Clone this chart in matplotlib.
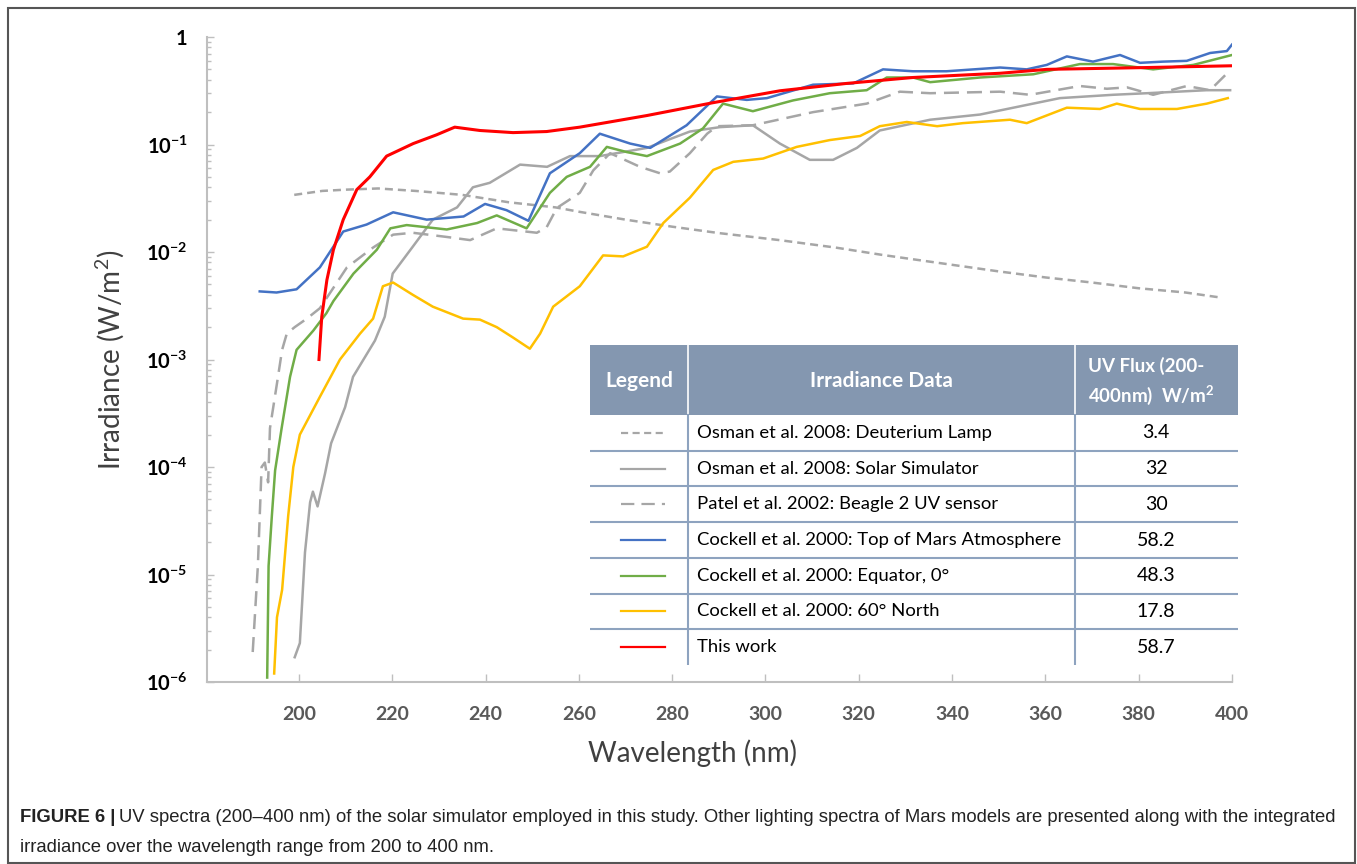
import matplotlib
matplotlib.use('Agg')
import matplotlib.pyplot as plt
from matplotlib.patches import Rectangle

plt.rcParams['font.family'] = ['Lato', 'DejaVu Sans']
plt.rcParams['mathtext.fontset'] = 'custom'
plt.rcParams['mathtext.rm'] = 'Lato'
plt.rcParams['mathtext.bf'] = 'Lato:bold'

# ---- data (wavelength nm, irradiance W/m2) ----
deut_wl = [199, 205, 210, 217, 225, 235, 245, 255, 260, 270, 280, 290, 303, 315, 325,
           340, 350, 360, 370, 380, 390, 397]
deut_irr = [0.034, 0.037, 0.038, 0.039, 0.037, 0.034, 0.029, 0.026, 0.0237, 0.020, 0.0172,
            0.0150, 0.0129, 0.0110, 0.0094, 0.0076, 0.0066, 0.0058, 0.0052, 0.0046, 0.0042, 0.0038]

sim_wl = [199.1, 200.2, 201.3, 202.4, 203.0, 204.0, 205.6, 206.9, 209.9, 211.6, 216.3, 218.4,
          220.1, 224.4, 228.7, 233.9, 237.3, 240.9, 247.4, 253.2, 258.1, 264.5, 274.6, 283.8,
          290.2, 297.3, 303.1, 309.5, 314.5, 319.6, 324.5, 335.3, 346.0, 363.1, 374.5, 381.8,
          394.6, 399.6]
sim_irr = [1.7e-6, 2.3e-6, 1.6e-5, 4.7e-5, 5.9e-5, 4.3e-5, 8.7e-5, 1.66e-4, 3.6e-4, 6.9e-4,
           1.5e-3, 2.5e-3, 6.3e-3, 0.0112, 0.020, 0.026, 0.040, 0.044, 0.065, 0.062, 0.078,
           0.078, 0.093, 0.132, 0.145, 0.151, 0.102, 0.072, 0.072, 0.093, 0.135, 0.170, 0.19,
           0.27, 0.29, 0.30, 0.32, 0.32]

patel_wl = [190.1, 191.2, 192.0, 192.7, 193.4, 193.8, 195.3, 196.4, 197.4, 199.1, 201.7, 204.5,
            210.3, 215.9, 220.2, 224.4, 231.7, 236.7, 242.4, 251.0, 253.1, 255.3, 260.2, 263.1,
            266.7, 273.1, 277.4, 279.5, 283.8, 287.5, 289.6, 297.3, 310.2, 321.7, 328.8, 335.3,
            350.3, 356.7, 367.4, 373.2, 377.5, 383.1, 390.3, 395.3, 399.6]
patel_irr = [1.9e-6, 1.2e-5, 1.0e-4, 1.1e-4, 7.2e-5, 2.3e-4, 6.0e-4, 1.23e-3, 1.74e-3, 2.0e-3,
             2.4e-3, 3.0e-3, 7.2e-3, 0.011, 0.0145, 0.0151, 0.0138, 0.0129, 0.0166, 0.0151,
             0.017, 0.0257, 0.0355, 0.0575, 0.083, 0.062, 0.054, 0.056, 0.083, 0.126, 0.148,
             0.151, 0.20, 0.24, 0.31, 0.30, 0.31, 0.29, 0.35, 0.33, 0.34, 0.29, 0.35, 0.32, 0.49]

top_wl = [191.6, 195.2, 199.5, 204.5, 209.5, 214.5, 220.2, 227.4, 235.3, 239.9, 244.5, 249.2,
          253.8, 260.2, 264.5, 271.0, 275.3, 283.1, 289.6, 296.0, 300.3, 310.2, 318.8, 325.2,
          331.6, 338.8, 350.3, 356.0, 360.3, 364.6, 370.2, 376.0, 380.3, 385.2, 390.3, 395.3,
          398.9, 400.0]
top_irr = [4.3e-3, 4.2e-3, 4.5e-3, 7.2e-3, 0.0155, 0.018, 0.0234, 0.020, 0.0214, 0.028, 0.0245,
           0.0195, 0.054, 0.083, 0.126, 0.102, 0.093, 0.151, 0.28, 0.26, 0.27, 0.36, 0.37, 0.50,
           0.48, 0.48, 0.52, 0.50, 0.55, 0.66, 0.59, 0.68, 0.575, 0.59, 0.60, 0.71, 0.74, 0.85]

eq_wl = [193.2, 193.5, 194.2, 194.9, 196.3, 198.1, 199.5, 203.1, 205.9, 207.4, 211.7, 216.7,
         219.6, 223.1, 231.7, 238.2, 242.4, 248.8, 253.8, 257.4, 262.4, 266.0, 270.3, 274.6,
         281.7, 286.6, 290.9, 297.3, 305.9, 313.8, 321.7, 326.0, 331.6, 335.3, 346.0, 357.4,
         367.4, 374.5, 383.1, 391.7, 400.0]
eq_irr = [1.1e-6, 1.2e-5, 3.5e-5, 9.3e-5, 2.3e-4, 6.9e-4, 1.23e-3, 1.86e-3, 2.7e-3, 3.5e-3,
          6.3e-3, 0.0105, 0.0166, 0.0178, 0.0162, 0.0186, 0.0219, 0.0166, 0.0355, 0.050, 0.062,
          0.095, 0.085, 0.078, 0.102, 0.141, 0.24, 0.204, 0.257, 0.30, 0.32, 0.42, 0.42, 0.38,
          0.42, 0.45, 0.56, 0.56, 0.50, 0.55, 0.68]

north_wl = [194.7, 195.3, 196.4, 197.7, 198.8, 200.2, 204.5, 208.8, 213.1, 215.9, 218.0, 220.2,
            224.4, 228.7, 235.2, 238.8, 242.4, 245.9, 249.5, 251.7, 254.5, 260.2, 265.2, 269.5,
            274.6, 278.1, 283.8, 288.8, 293.1, 299.5, 306.7, 313.8, 320.3, 324.5, 330.3, 336.8,
            342.3, 352.4, 356.0, 364.6, 371.7, 375.3, 380.3, 388.2, 394.6, 399.1]
north_irr = [1.2e-6, 4.0e-6, 7.2e-6, 3.5e-5, 1.0e-4, 2.0e-4, 4.5e-4, 1.0e-3, 1.74e-3, 2.4e-3,
             4.8e-3, 5.2e-3, 4.0e-3, 3.1e-3, 2.4e-3, 2.35e-3, 2.0e-3, 1.6e-3, 1.26e-3, 1.74e-3,
             3.1e-3, 4.8e-3, 9.3e-3, 9.1e-3, 0.0112, 0.0186, 0.032, 0.058, 0.069, 0.074, 0.095,
             0.110, 0.120, 0.148, 0.162, 0.148, 0.158, 0.17, 0.158, 0.22, 0.214, 0.24, 0.214,
             0.214, 0.24, 0.27]

work_wl = [204.3, 204.9, 206.0, 207.4, 209.5, 212.4, 215.2, 218.8, 224.5, 229.5, 233.4, 238.8,
           245.9, 253.1, 260.2, 274.6, 288.8, 303.1, 317.4, 331.6, 350.3, 360.3, 381.8, 400.0]
work_irr = [1.0e-3, 2.5e-3, 5.5e-3, 0.0105, 0.020, 0.038, 0.050, 0.078, 0.102, 0.123, 0.145,
            0.135, 0.129, 0.132, 0.145, 0.186, 0.245, 0.316, 0.37, 0.42, 0.46, 0.50, 0.52, 0.54]

names = ['Osman et al. 2008: Deuterium Lamp', 'Osman et al. 2008: Solar Simulator',
         'Patel et al. 2002: Beagle 2 UV sensor', 'Cockell et al. 2000: Top of Mars Atmosphere',
         'Cockell et al. 2000: Equator, 0°', 'Cockell et al. 2000: 60° North', 'This work']
flux = ['3.4', '32', '30', '58.2', '48.3', '17.8', '58.7']

colors = ['#A6A6A6', '#A6A6A6', '#A6A6A6', '#4472C4', '#70AD47', '#FFC000', '#FF0000']
styles = [(0, (3.2, 2.0)), '-', (0, (6, 3.2)), '-', '-', '-', '-']
widths = [1.8, 1.8, 1.8, 1.8, 1.8, 1.8, 2.2]

series = [(deut_wl, deut_irr), (sim_wl, sim_irr), (patel_wl, patel_irr), (top_wl, top_irr),
          (eq_wl, eq_irr), (north_wl, north_irr), (work_wl, work_irr)]

W, H = 1357, 864
fig = plt.figure(figsize=(W / 100, H / 100), dpi=100)
fig.add_artist(Rectangle((8 / W, 1 / H), (1355 - 8) / W, (863 - 8) / H, transform=fig.transFigure,
                         fill=False, ec='#555555', lw=1.5))

ax = fig.add_axes([207 / W, 1 - 682 / H, (1232 - 207) / W, (682 - 37) / H])
z_order = [0, 1, 2, 5, 4, 3, 6]
for i in z_order:
    wl, irr = series[i]
    ax.plot(wl, irr, color=colors[i], ls=styles[i], lw=widths[i], zorder=2 + z_order.index(i))

ax.set_yscale('log')
ax.set_xlim(180.3, 400)
ax.set_ylim(1e-6, 1)
ax.set_xticks(range(200, 401, 20))
ax.set_xticklabels([str(v) for v in range(200, 401, 20)], fontsize=14, fontweight='bold',
                   color='#595959')
yt = [1e-6, 1e-5, 1e-4, 1e-3, 1e-2, 1e-1, 1]
ax.set_yticks(yt)
ax.set_yticklabels([r'$\mathbf{10^{-%d}}$' % k for k in range(6, 0, -1)] + ['1'],
                   fontsize=14.5, fontweight='bold')
for s in ['top', 'right']:
    ax.spines[s].set_visible(False)
for s in ['left', 'bottom']:
    ax.spines[s].set_color('#BFBFBF')
    ax.spines[s].set_linewidth(1.5)
ax.tick_params(axis='x', direction='in', length=6, width=1, color='#BFBFBF', pad=17)
ax.tick_params(axis='y', which='major', direction='in', length=5, width=1, color='#BFBFBF', pad=14)
ax.tick_params(axis='y', which='minor', direction='in', length=3, width=1, color='#BFBFBF')
fig.text(692 / W, 1 - 753 / H, 'Wavelength (nm)', fontsize=20, color='#404040',
         ha='center', va='center')
ax.set_ylabel('Irradiance (W/m$^2$)', fontsize=20, color='#404040', labelpad=14)

# ---- legend table ----
tab = fig.add_axes([590 / W, 1 - 665 / H, 648 / W, 320 / H])
tab.set_xlim(0, 648)
tab.set_ylim(320, 0)
tab.axis('off')
tab.add_patch(Rectangle((0, 0), 648, 320, fc='white', ec='none', zorder=0))
tab.add_patch(Rectangle((0, 0), 648, 70, fc='#8497B0', ec='none', zorder=1))
line_c = '#8EA3BF'
c1, c2 = 98, 485
tab.plot([c1, c1], [0, 70], color='white', lw=1.2, zorder=2)
tab.plot([c2, c2], [0, 70], color='white', lw=1.2, zorder=2)
tab.plot([c1, c1], [70, 320], color=line_c, lw=1.5, zorder=2)
tab.plot([c2, c2], [70, 320], color=line_c, lw=1.5, zorder=2)
rh = (320 - 70) / 7
for k in range(1, 7):
    tab.plot([0, 648], [70 + k * rh] * 2, color=line_c, lw=1.5, zorder=2)
tab.text(c1 / 2, 36, 'Legend', ha='center', va='center', color='white', fontsize=15,
         fontweight='bold')
tab.text((c1 + c2) / 2, 36, 'Irradiance Data', ha='center', va='center', color='white',
         fontsize=15, fontweight='bold')
tab.text(498, 21, 'UV Flux (200-', ha='left', va='center', color='white', fontsize=13.5,
         fontweight='bold')
tab.text(498, 50, '400nm)  W/m$^\\mathbf{2}$', ha='left', va='center', color='white',
         fontsize=13.5, fontweight='bold')
for k in range(7):
    yc = 70 + (k + 0.5) * rh
    tab.plot([31, 75], [yc, yc], color=colors[k], ls=styles[k], lw=1.6, zorder=3)
    tab.text(107, yc, names[k], ha='left', va='center', fontsize=13.3, color='black')
    tab.text(566, yc, flux[k], ha='center', va='center', fontsize=14, color='black')

# ---- caption ----
cap_y = 1 - 818 / H
t1 = fig.text(20 / W, cap_y, 'FIGURE 6 |', fontsize=13.3, fontweight='bold',
              family=['Liberation Sans'], va='center', color='#222222')
fig.canvas.draw()
bb = t1.get_window_extent(fig.canvas.get_renderer())
fig.text(bb.x1 / W + 4 / W, cap_y,
         'UV spectra (200–400 nm) of the solar simulator employed in this study. Other lighting '
         'spectra of Mars models are presented along with the integrated',
         fontsize=13.3, family=['Liberation Sans'], va='center', color='#222222')
fig.text(20 / W, 1 - 848 / H, 'irradiance over the wavelength range from 200 to 400 nm.',
         fontsize=13.3, family=['Liberation Sans'], va='center', color='#222222')

fig.savefig('out.png', dpi=100)
